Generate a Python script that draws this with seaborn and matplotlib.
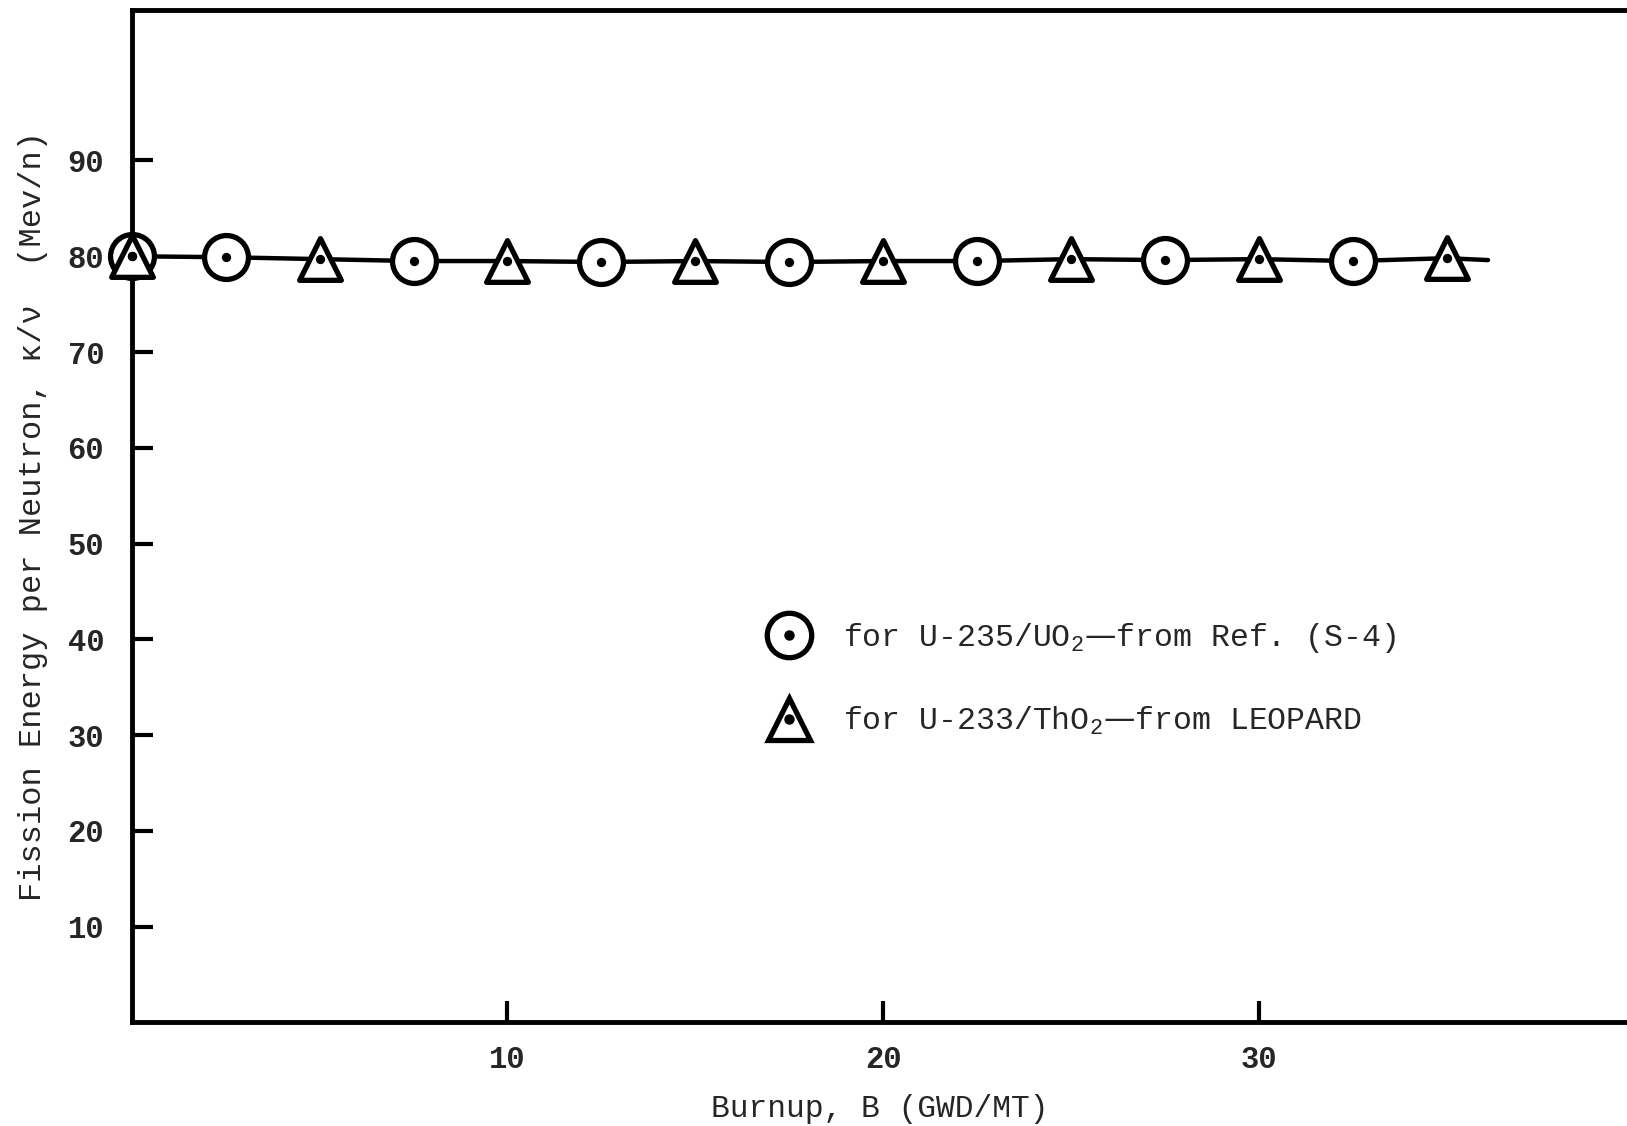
import matplotlib
matplotlib.use("Agg")
import matplotlib.pyplot as plt
import seaborn as sns
from matplotlib.lines import Line2D
from matplotlib.legend_handler import HandlerTuple

# Burnup points
burnup_u235 = [0, 2.5, 7.5, 12.5, 17.5, 22.5, 27.5, 32.5]
kappa_u235 = [80.0, 79.9, 79.5, 79.4, 79.4, 79.5, 79.6, 79.5]

burnup_u233 = [0, 5, 10, 15, 20, 25, 30, 35]
kappa_u233 = [80.0, 79.7, 79.5, 79.5, 79.5, 79.7, 79.7, 79.8]

# the hand-drawn curve runs a little past the last point
curve_x = [0, 2.5, 5, 7.5, 10, 12.5, 15, 17.5, 20, 22.5, 25, 27.5, 30, 32.5, 35, 36.1]
curve_y = [80.0, 79.9, 79.7, 79.5, 79.5, 79.4, 79.5, 79.4, 79.5, 79.5, 79.7, 79.6, 79.7, 79.5, 79.8, 79.6]

x_ticks = [10, 20, 30]
y_ticks = [10, 20, 30, 40, 50, 60, 70, 80, 90]

label_u235 = "for U-235/UO$_2$\u2014from Ref. (S-4)"
label_u233 = "for U-233/ThO$_2$\u2014from LEOPARD"

sns.set_style("white")
plt.rcParams['font.family'] = ['Liberation Mono', 'DejaVu Sans']
plt.rcParams['mathtext.default'] = 'regular'

fig = plt.figure(figsize=(16.27, 11.26), dpi=100)
ax = fig.add_axes([0.081, 0.092, 0.919, 0.899])

sns.lineplot(x=curve_x, y=curve_y, ax=ax, color='black', linewidth=3.2, zorder=2)

mk = dict(facecolor='white', edgecolor='black', zorder=3, legend=False, clip_on=False)
sns.scatterplot(x=burnup_u235, y=kappa_u235, ax=ax, marker='o', s=1000, linewidth=3.8, **mk)
sns.scatterplot(x=burnup_u233, y=kappa_u233, ax=ax, marker='^', s=900, linewidth=3.8, **mk)
# centre dots
sns.scatterplot(x=burnup_u235 + burnup_u233, y=kappa_u235 + kappa_u233, ax=ax,
                marker='o', s=45, color='black', linewidth=0, zorder=4, legend=False,
                clip_on=False)

ax.set_xlim(0, 39.8)
ax.set_ylim(0, 105.7)
ax.set_xticks(x_ticks)
ax.set_yticks(y_ticks)
ax.tick_params(axis='both', direction='in', length=15, width=3, labelsize=22,
               color='black', bottom=True, left=True)
ax.tick_params(axis='x', pad=16)
ax.tick_params(axis='y', pad=20)
for lbl in ax.get_xticklabels() + ax.get_yticklabels():
    lbl.set_fontweight('bold')

for side in ['left', 'bottom', 'top']:
    ax.spines[side].set_linewidth(3.5)
    ax.spines[side].set_color('black')
ax.spines['right'].set_visible(False)

ax.set_xlabel('Burnup, B (GWD/MT)', fontsize=22.5, labelpad=14)
ax.set_ylabel('Fission Energy per Neutron, \u03ba/\u03bd  (Mev/n)', fontsize=23, labelpad=14)

circ = Line2D([], [], marker='o', markersize=32, markerfacecolor='white',
              markeredgecolor='black', markeredgewidth=3.8, linestyle='none')
tri = Line2D([], [], marker='^', markersize=30, markerfacecolor='white',
             markeredgecolor='black', markeredgewidth=3.8, linestyle='none')
dot = Line2D([], [], marker='o', markersize=6.5, color='black', linestyle='none')

ax.legend([(circ, dot), (tri, dot)], [label_u235, label_u233],
          handler_map={tuple: HandlerTuple(ndivide=1)},
          loc='upper left', bbox_to_anchor=(0.405, 0.425), frameon=False,
          fontsize=22.7, handlelength=1.5, handletextpad=0.95, labelspacing=1.6)

fig.savefig('out.png', dpi=100)
